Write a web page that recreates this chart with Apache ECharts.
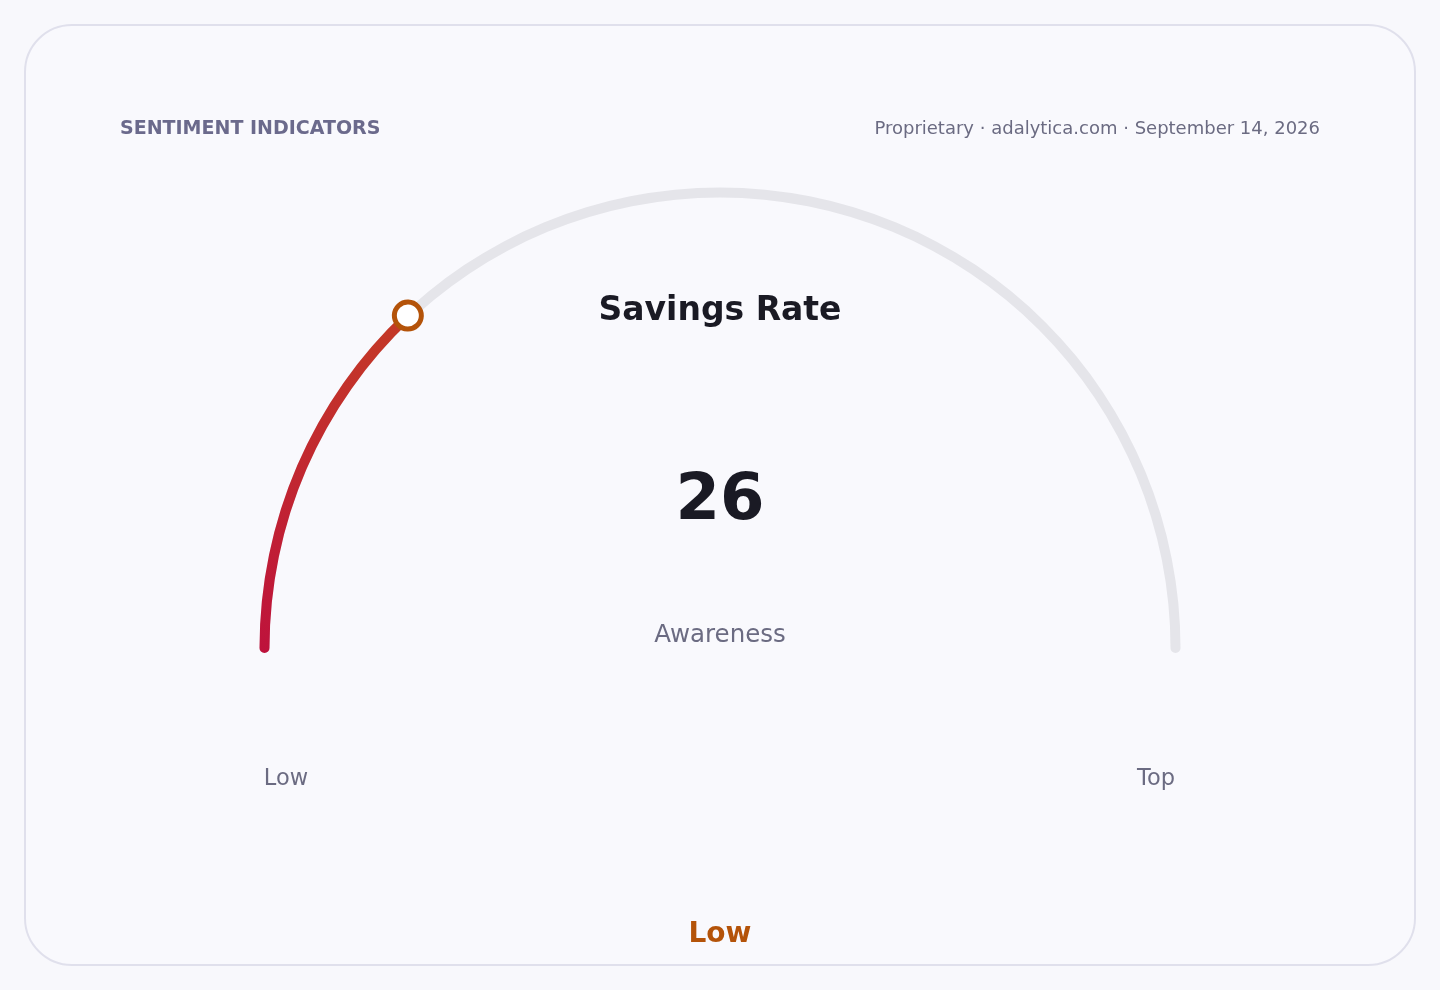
<!DOCTYPE html>
<html lang="en">
<head>
    <meta charset="UTF-8">
    <title>Savings Rate gauge</title>
    <script src="https://cdn.jsdelivr.net/npm/echarts@6/dist/echarts.min.js"></script>
    <style>
        html, body { margin: 0; padding: 0; background: #f8f8fc; }
        #card {
            position: absolute; left: 24px; top: 24px;
            width: 1388px; height: 938px;
            border: 2px solid #e0e0ec; border-radius: 48px;
            background: #f9f9fd;
        }
        #main { position: absolute; left: 0; top: 0; width: 1440px; height: 990px; }
    </style>
</head>
<body>
    <div id="card"></div>
    <div id="main"></div>

    <script type="text/javascript">
        // gauge data
        let gaugeName = ['Awareness'];
        let gaugeValue = [26];
        let scaleEnds = [0, 100];
        let endLabels = ['Low', 'Top'];
        let statusLabel = 'Low';

        let font = 'DejaVu Sans';
        let muted = '#6b6b82';
        let accent = '#b45309';

        let myChart = echarts.init(document.getElementById('main'));

        function txt(text, size, weight, fill, extra) {
            let t = {
                type: 'text',
                style: {
                    text: text,
                    fontFamily: font,
                    fontSize: size,
                    fontWeight: weight,
                    fill: fill
                }
            };
            return Object.assign(t, extra);
        }

        let centered = function (x, y) {
            return { x: x, y: y };
        };

        // shared geometry of both gauge layers
        let base = {
            type: 'gauge',
            center: [720, 648],
            radius: 460.5,
            startAngle: 180,
            endAngle: 0,
            min: scaleEnds[0],
            max: scaleEnds[1],
            anchor: { show: false },
            axisTick: { show: false },
            splitLine: { show: false },
            axisLabel: { show: false }
        };

        let data = gaugeName.map(function (n, i) {
            return { name: n, value: gaugeValue[i] };
        });

        let option = {
            animation: false,
            graphic: [
                txt('SENTIMENT INDICATORS', 19, 'bold', '#6b6a8c', { left: 120, top: 120 }),
                txt('Proprietary · adalytica.com · September 14, 2026', 18, 'normal', muted, { right: 120, top: 120 }),
                txt('Savings Rate', 33, 'bold', '#1a1a24', centered(720, 311)),
                txt(endLabels[0], 22.5, 'normal', muted, centered(286, 779)),
                txt(endLabels[1], 22.5, 'normal', muted, centered(1156, 779)),
                txt(statusLabel, 28, 'bold', accent, centered(720, 935))
            ],
            series: [
                Object.assign({}, base, {
                    axisLine: {
                        roundCap: true,
                        lineStyle: { width: 10, color: [[1, '#e5e5ea']] }
                    },
                    progress: {
                        show: true,
                        roundCap: true,
                        width: 10,
                        itemStyle: {
                            color: new echarts.graphic.LinearGradient(0, 1, 0, 0, [
                                { offset: 0, color: '#be123c' },
                                { offset: 1, color: '#c43a26' }
                            ])
                        }
                    },
                    pointer: { show: false },
                    title: {
                        offsetCenter: [0, -12],
                        fontSize: 24.5,
                        fontFamily: font,
                        color: muted
                    },
                    detail: {
                        offsetCenter: [0, -146],
                        fontSize: 64,
                        fontWeight: 'bold',
                        fontFamily: font,
                        color: '#1a1a24',
                        formatter: '{value}'
                    },
                    data: data
                }),
                // marker ring at the value, drawn on top of the progress arc
                Object.assign({}, base, {
                    z: 5,
                    axisLine: { show: false },
                    progress: { show: false },
                    pointer: {
                        show: true,
                        icon: 'circle',
                        length: 27,
                        width: 27,
                        offsetCenter: [0, -442.5],
                        keepAspect: true,
                        itemStyle: { color: '#ffffff', borderColor: accent, borderWidth: 5 }
                    },
                    title: { show: false },
                    detail: { show: false },
                    data: data
                })
            ]
        };

        // centre the free text labels on their anchor point
        option.graphic.forEach(function (g) {
            if (g.x !== undefined) {
                g.style.align = 'center';
                g.style.verticalAlign = 'middle';
            }
        });

        myChart.setOption(option);
    </script>
</body>
</html>
